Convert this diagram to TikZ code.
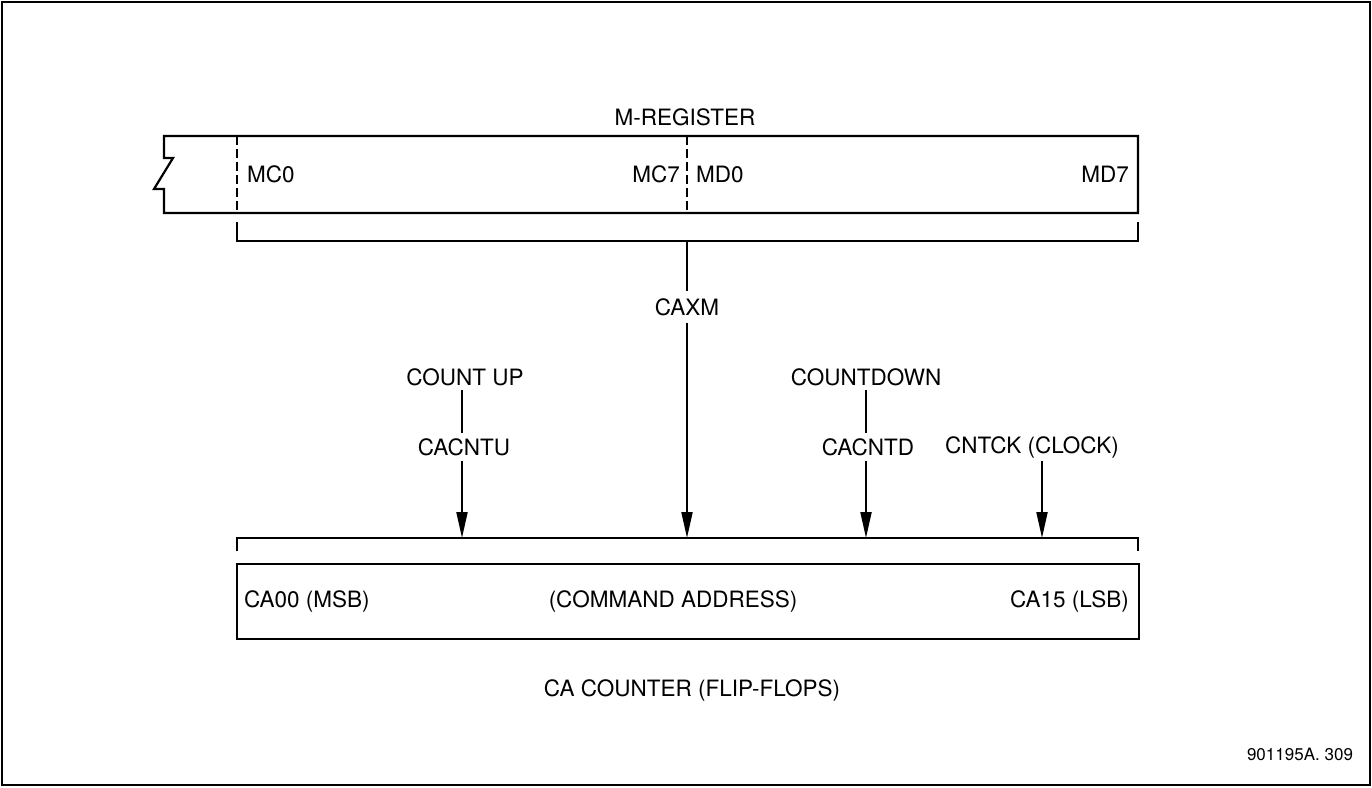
\documentclass[tikz,border=0pt]{standalone}
\usepackage{fontspec}
\setmainfont{TeX Gyre Heros}
\usetikzlibrary{arrows.meta}
\begin{document}
\begin{tikzpicture}[x=1pt,y=-1pt,
  line width=2.2pt,
  lbl/.style={inner sep=0pt,font=\fontsize{22.5}{26}\selectfont},
  small/.style={inner sep=0pt,font=\fontsize{17}{20}\selectfont},
  sep/.style={line width=2pt,dash pattern=on 9pt off 4pt},
  feed/.style={line width=2pt,-{Triangle[length=26pt,width=11pt]}},
  wire/.style={line width=2pt}]
\useasboundingbox (0,0) rectangle (1372,787);
% outer frame
\draw (2,2) rectangle (1370,785);

% M-register, broken off at its left end
\draw (164,136) -- (1138,136) -- (1138,213) -- (164,213) -- (164,189)
      -- (154,189) -- (173,158) -- (164,158) -- cycle;
\draw[sep] (237,136) -- (237,213);
\draw[sep] (687,136) -- (687,213);
\node[lbl] (mreg) at (685,117) {M-REGISTER};
\node[lbl,anchor=west] (mc0) at (246,174) {MC0};
\node[lbl,anchor=east] (mc7) at (681,174) {MC7};
\node[lbl,anchor=west] (md0) at (695,174) {MD0};
\node[lbl,anchor=east] (md7) at (1130,174) {MD7};

% bracket gathering the M-register outputs
\coordinate (mbl) at (237,241);
\coordinate (mbr) at (1138,241);
\coordinate (mbm) at (687,241);
\draw (237,222) -- (mbl) -- (mbr) -- (1138,222);

% CA counter and its input bracket
\coordinate (cbl) at (237,538);
\coordinate (cbr) at (1138,538);
\draw (237,551) -- (cbl) -- (cbr) -- (1138,551);
\coordinate (tu) at (462,538);
\coordinate (tm) at (687,538);
\coordinate (td) at (866,538);
\coordinate (tc) at (1042,538);

\draw (237,564) rectangle (1139,639);
\node[lbl,anchor=west] (ca00) at (243,601) {CA00 (MSB)};
\node[lbl] (cmd) at (673,601) {(COMMAND ADDRESS)};
\node[lbl,anchor=east] (ca15) at (1130,601) {CA15 (LSB)};
\node[lbl] (cactr) at (692,690) {CA COUNTER (FLIP-FLOPS)};

% signals
\node[lbl] (caxm) at (687,307) {CAXM};
\draw[wire,shorten >=6pt] (mbm) -- (caxm.north);
\draw[feed,shorten <=6pt] (caxm.south) -- (tm);

\node[lbl] (cup) at (465,377) {COUNT UP};
\node[lbl] (cacntu) at (464,447) {CACNTU};
\draw[wire] (462,390) -- (462,433);
\draw[feed] (462,461) -- (tu);

\node[lbl] (cdn) at (866,377) {COUNTDOWN};
\node[lbl] (cacntd) at (868,447) {CACNTD};
\draw[wire] (866,390) -- (866,433);
\draw[feed] (866,461) -- (td);

\node[lbl] (cntck) at (1032,447) {CNTCK (CLOCK)};
\draw[feed] (1042,461) -- (tc);

\node[small] (fig) at (1300,754) {901195A. 309};
\end{tikzpicture}
\end{document}
